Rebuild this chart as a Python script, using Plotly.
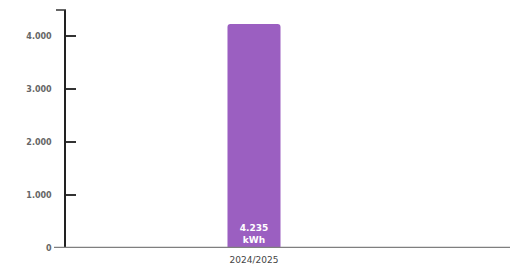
import plotly.graph_objects as go

categories = ["2024/2025"]
values = [4235]
bar_labels = ["<b>4.235</b><br><b>kWh</b>"]
y_ticks = [0, 1000, 2000, 3000, 4000]
y_tick_labels = ["<b>0</b>", "<b>1.000</b>", "<b>2.000</b>", "<b>3.000</b>", "<b>4.000</b>"]

fig = go.Figure()
fig.add_trace(go.Bar(
    x=[0], y=values, width=0.141,
    marker=dict(color="#9B5FC1", line=dict(width=0)),
    text=bar_labels, textposition="inside", insidetextanchor="start",
    textfont=dict(color="white", size=9, family="DejaVu Sans"),
    textangle=0, hoverinfo="skip",
))

fig.update_layout(
    width=518, height=273,
    margin=dict(l=58, r=0, t=2, b=33),
    paper_bgcolor="white", plot_bgcolor="white",
    showlegend=False, barcornerradius=3,
    separators=",.",
    xaxis=dict(
        range=[-0.5, 0.7234], tickvals=[0], ticktext=categories,
        showgrid=False, zeroline=False, showline=False,
        ticks="", tickfont=dict(size=9, color="#444", family="DejaVu Sans"),
        ticklabelstandoff=5,
    ),
    yaxis=dict(
        range=[0, 4500], tickvals=y_ticks, ticktext=y_tick_labels,
        showgrid=False, zeroline=False, showline=True, linecolor="#222", linewidth=1.5,
        ticks="inside", ticklen=10, tickwidth=1.5, tickcolor="#333",
        tickfont=dict(size=8, color="#666", family="DejaVu Sans"),
        ticklabelstandoff=11,
    ),
    shapes=[
        dict(type="line", xref="paper", yref="y", x0=-12/460, x1=1, y0=0, y1=0,
             line=dict(color="#7f7f7f", width=2.5)),
        dict(type="line", xref="paper", yref="paper", x0=-10/460, x1=0, y0=1, y1=1,
             line=dict(color="#333", width=1.5)),
    ],
)

fig.write_html("out.html")
